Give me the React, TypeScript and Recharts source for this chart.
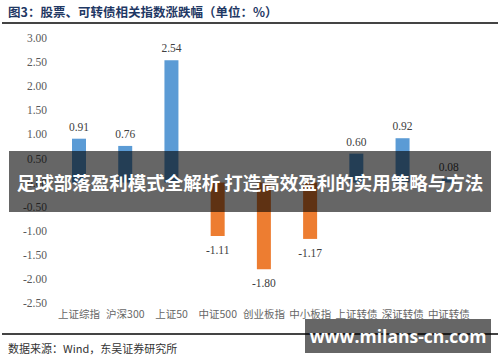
import React from "react";
import { BarChart, Bar, XAxis, YAxis, Cell, LabelList } from "recharts";

const categories = ["上证综指", "沪深300", "上证50", "中证500", "创业板指", "中小板指", "上证转债", "深证转债", "中证转债"];
const changes = [0.91, 0.76, 2.54, -1.11, -1.8, -1.17, 0.6, 0.92, 0.08];
const yTicks = [3, 2.5, 2, 1.5, 1, 0.5, 0, -0.5, -1, -1.5, -2, -2.5];

const data = categories.map((name, i) => ({ name, value: changes[i] }));

const serif = '"Liberation Serif", "Times New Roman", serif';
const cjk = '"Noto Sans CJK SC", "Noto Sans", sans-serif';

function ValueLabel(props: any) {
  const { x, y, width, height, value } = props;
  const top = Math.min(y, y + height);
  const bottom = Math.max(y, y + height);
  const cy = value < 0 ? bottom + 14 : top - 12;
  return (
    <text x={x + width / 2} y={cy} dy="0.35em" textAnchor="middle" fontFamily={serif} fontSize={11.5} fill="#404040">
      {Number(value).toFixed(2)}
    </text>
  );
}

export default function App() {
  return (
    <div style={{ position: "absolute", left: 0, top: 0, width: 500, height: 362, background: "#fff", overflow: "hidden" }}>
      <div style={{ position: "absolute", left: 8, top: 2, fontFamily: cjk, fontWeight: 700, fontSize: 12.5, color: "#1f3864", whiteSpace: "nowrap" }}>
        图3：股票、可转债相关指数涨跌幅（单位：%）
      </div>
      <div style={{ position: "absolute", left: 2, top: 22, width: 496, height: 2, background: "#444" }} />

      <div style={{ position: "absolute", left: 0, top: 0 }}>
        <BarChart width={500} height={362} data={data} margin={{ top: 38, right: 28, bottom: 29, left: 0 }}>
          <YAxis
            type="number"
            domain={[-2.5, 3]}
            ticks={yTicks}
            interval={0}
            width={56}
            axisLine={false}
            tickLine={false}
            tickSize={0}
            tickMargin={9}
            tickFormatter={(v: number) => v.toFixed(2)}
            tick={{ fill: "#595959", fontSize: 11.5, fontFamily: serif }}
          />
          <XAxis
            dataKey="name"
            height={30}
            axisLine={false}
            tickLine={false}
            tickSize={0}
            tickMargin={8}
            interval={0}
            tick={{ fill: "#666", fontSize: 10.5, fontFamily: cjk }}
          />
          <Bar dataKey="value" barSize={14} isAnimationActive={false}>
            {data.map((d, i) => (
              <Cell key={i} fill={d.value < 0 ? "#ed7d31" : "#5b9bd5"} />
            ))}
            <LabelList dataKey="value" content={ValueLabel} />
          </Bar>
        </BarChart>
      </div>

      <div style={{ position: "absolute", left: 2, top: 333, width: 496, height: 2, background: "#444" }} />
      <div style={{ position: "absolute", left: 8, top: 340, fontFamily: cjk, fontSize: 11, color: "#333", whiteSpace: "nowrap" }}>
        数据来源：Wind，东吴证券研究所
      </div>

      <div
        style={{
          position: "absolute",
          left: 9,
          top: 151,
          width: 482,
          height: 61,
          background: "rgba(0,0,0,0.6)",
          display: "flex",
          alignItems: "center",
          justifyContent: "center",
          color: "#fff",
          fontFamily: cjk,
          fontWeight: 700,
          fontSize: 18.5,
          whiteSpace: "nowrap",
        }}
      >
        足球部落盈利模式全解析 打造高效盈利的实用策略与方法
      </div>

      <div
        style={{
          position: "absolute",
          left: 305,
          top: 319,
          width: 186,
          height: 34,
          background: "rgba(0,0,0,0.6)",
          display: "flex",
          alignItems: "center",
          justifyContent: "center",
          color: "#fff",
          fontFamily: '"Open Sans", "Noto Sans", sans-serif',
          fontWeight: 700,
          fontSize: 17.5,
          whiteSpace: "nowrap",
        }}
      >
        www.milans-cn.com
      </div>
    </div>
  );
}
